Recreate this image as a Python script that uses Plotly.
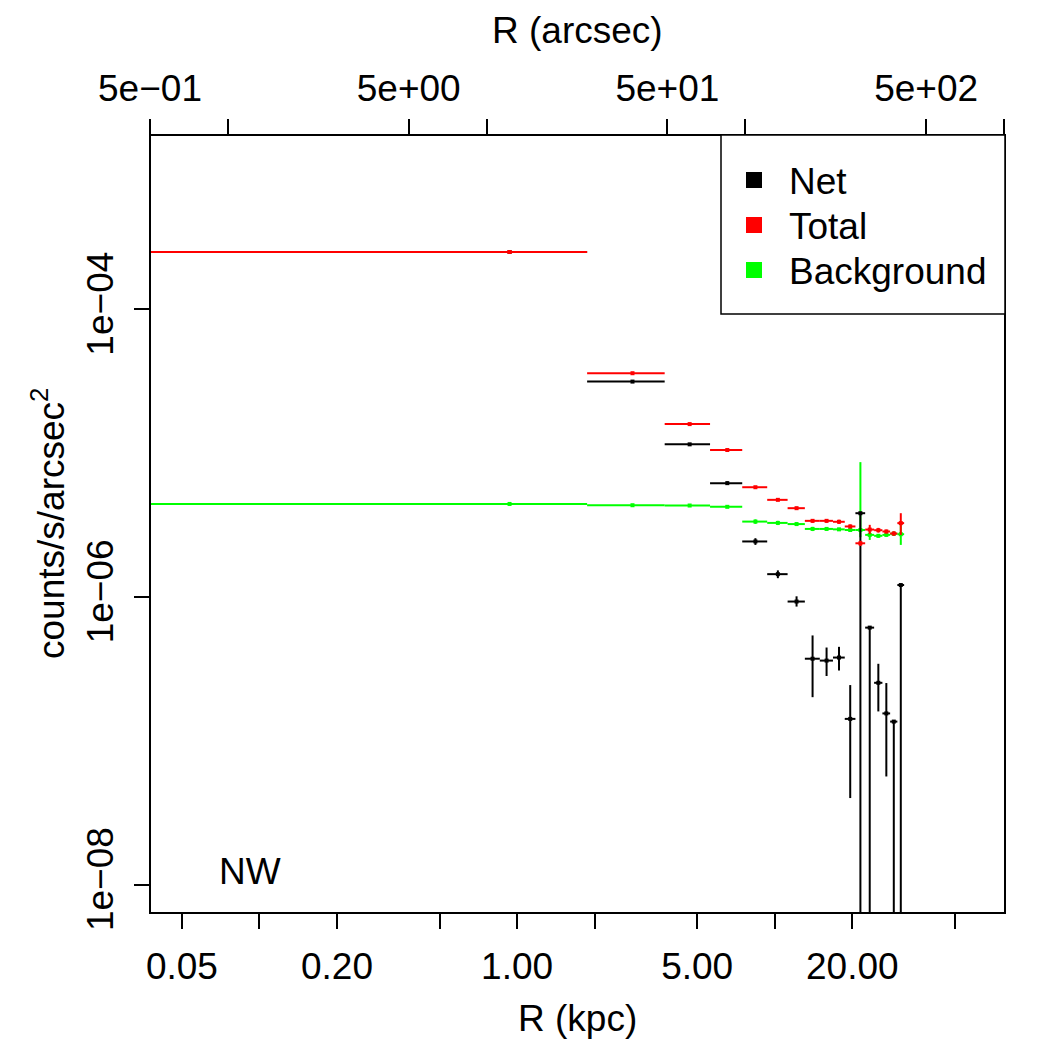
import plotly.graph_objects as go

# ---------------- data ----------------
r_kpc = [0.935, 2.805, 4.675, 6.545, 8.415, 10.285, 12.155, 14.025, 15.895,
         17.765, 19.635, 21.505, 23.375, 25.245, 27.115, 28.985, 30.855]
r_lo = [0.0, 1.87, 3.74, 5.61, 7.48, 9.35, 11.22, 13.09, 14.96,
        16.83, 18.70, 20.57, 22.44, 24.31, 26.18, 28.05, 29.92]
r_hi = [1.87, 3.74, 5.61, 7.48, 9.35, 11.22, 13.09, 14.96, 16.83,
        18.70, 20.57, 22.44, 24.31, 26.18, 28.05, 29.92, 31.79]

net_y = [2.50e-4, 3.14e-5, 1.15e-5, 6.18e-6, 2.43e-6, 1.44e-6, 9.29e-7, 3.72e-7, 3.61e-7,
         3.79e-7, 1.42e-7, 3.82e-6, 6.12e-7, 2.53e-7, 1.55e-7, 1.36e-7, 1.21e-6]
net_lo = [2.48e-4, 3.11e-5, 1.13e-5, 6.00e-6, 2.30e-6, 1.35e-6, 8.57e-7, 2.01e-7, 2.82e-7,
          3.08e-7, 4.00e-8, 0.0, 0.0, 1.60e-7, 5.65e-8, 0.0, 0.0]
net_hi = [2.52e-4, 3.17e-5, 1.17e-5, 6.35e-6, 2.56e-6, 1.53e-6, 1.01e-6, 5.40e-7, 4.45e-7,
          4.50e-7, 2.44e-7, 3.82e-6, 6.12e-7, 3.43e-7, 2.52e-7, 1.36e-7, 1.21e-6]

tot_y = [2.50e-4, 3.59e-5, 1.59e-5, 1.05e-5, 5.79e-6, 4.73e-6, 4.14e-6, 3.38e-6, 3.38e-6,
         3.33e-6, 3.09e-6, 2.36e-6, 2.94e-6, 2.91e-6, 2.85e-6, 2.76e-6, 3.26e-6]
tot_lo = [2.49e-4, 3.56e-5, 1.57e-5, 1.04e-5, 5.70e-6, 4.64e-6, 4.05e-6, 3.28e-6, 3.28e-6,
          3.22e-6, 3.00e-6, 2.26e-6, 2.74e-6, 2.80e-6, 2.76e-6, 2.66e-6, 2.70e-6]
tot_hi = [2.51e-4, 3.62e-5, 1.61e-5, 1.06e-5, 5.88e-6, 4.82e-6, 4.23e-6, 3.48e-6, 3.48e-6,
          3.44e-6, 3.19e-6, 2.46e-6, 3.17e-6, 3.02e-6, 2.94e-6, 2.86e-6, 3.82e-6]

bkg_y = [4.43e-6, 4.34e-6, 4.32e-6, 4.23e-6, 3.34e-6, 3.27e-6, 3.21e-6, 2.97e-6, 2.97e-6,
         2.95e-6, 2.92e-6, 2.92e-6, 2.70e-6, 2.66e-6, 2.70e-6, 2.75e-6, 2.73e-6]
bkg_lo = [4.32e-6, 4.26e-6, 4.24e-6, 4.16e-6, 3.22e-6, 3.16e-6, 3.12e-6, 2.87e-6, 2.89e-6,
          2.88e-6, 2.85e-6, 2.60e-6, 2.49e-6, 2.58e-6, 2.62e-6, 2.66e-6, 2.30e-6]
bkg_hi = [4.54e-6, 4.42e-6, 4.40e-6, 4.30e-6, 3.46e-6, 3.38e-6, 3.30e-6, 3.07e-6, 3.05e-6,
          3.02e-6, 2.99e-6, 8.65e-6, 2.85e-6, 2.74e-6, 2.78e-6, 2.84e-6, 3.27e-6]

x_tickvals = [0.05, 0.2, 1, 5, 20]
x_ticktext = ["0.05", "0.20", "1.00", "5.00", "20.00"]
x_minorvals = [0.1, 0.5, 2, 10, 50]
top_tickvals = [0.5, 5, 50, 500]
top_ticktext = ["5e\u221201", "5e+00", "5e+01", "5e+02"]
top_minorvals = [1, 10, 100, 1000]
y_tickvals = [1e-4, 1e-6, 1e-8]
y_ticktext = ["1e\u221204", "1e\u221206", "1e\u221208"]

series = [("Net", "#000000"), ("Total", "#FF0000"), ("Background", "#00FF00")]

# ---------------- layout geometry (pixels) ----------------
W = H = 1050
L, R, T, B = 150, 1005, 135, 913
PW, PH = R - L, B - T


def px(x):
    return (x - L) / PW


def py(y):
    return (B - y) / PH


FONT = "Liberation Sans, Arial, Helvetica, sans-serif"
FS = 37
FLOOR = 1e-12  # drawing floor for non-positive limits on log axes
XFLOOR = 1e-3


def hseg(lo, hi, y):
    xs, ys = [], []
    for a, b, v in zip(lo, hi, y):
        xs += [max(a, XFLOOR), b, None]
        ys += [v, v, None]
    return xs, ys


def vseg(xc, lo, hi):
    xs, ys = [], []
    for x, a, b in zip(xc, lo, hi):
        xs += [x, x, None]
        ys += [max(a, FLOOR), b, None]
    return xs, ys


fig = go.Figure()

data = {
    "Net": (net_y, net_lo, net_hi),
    "Total": (tot_y, tot_lo, tot_hi),
    "Background": (bkg_y, bkg_lo, bkg_hi),
}
order = ["Background", "Net", "Total"]
colors = dict(series)
for name in order:
    yv, ylo, yhi = data[name]
    c = colors[name]
    hx, hy = hseg(r_lo, r_hi, yv)
    vx, vy = vseg(r_kpc, ylo, yhi)
    fig.add_trace(go.Scatter(x=hx, y=hy, mode="lines", line=dict(color=c, width=2),
                             showlegend=False, hoverinfo="skip"))
    fig.add_trace(go.Scatter(x=vx, y=vy, mode="lines", line=dict(color=c, width=2),
                             showlegend=False, hoverinfo="skip"))
    fig.add_trace(go.Scatter(x=r_kpc, y=yv, mode="markers",
                             marker=dict(color=c, size=4, symbol="square"),
                             showlegend=False, name=name))

# invisible trace to activate the top (arcsec) axis
fig.add_trace(go.Scatter(x=[10], y=[1e-5], xaxis="x2", mode="markers",
                         marker=dict(opacity=0), showlegend=False, hoverinfo="skip"))

axis_common = dict(type="log", showgrid=False, zeroline=False, showline=False,
                   ticks="outside", ticklen=15, tickwidth=1.5, tickcolor="black",
                   tickfont=dict(family=FONT, size=FS, color="black"))
minor_common = dict(ticks="outside", ticklen=15, tickwidth=1.5, tickcolor="black",
                    showgrid=False, tickmode="array")

fig.update_layout(
    width=W, height=H,
    margin=dict(l=L, r=W - R, t=T, b=H - B, pad=0),
    paper_bgcolor="white", plot_bgcolor="white",
    showlegend=False,
    xaxis=dict(range=[-1.4248, 1.8938], tickmode="array", tickvals=x_tickvals,
               ticktext=x_ticktext, ticklabelstandoff=6,
               minor=dict(tickvals=x_minorvals, **minor_common), **axis_common),
    xaxis2=dict(range=[-0.3010, 3.0040], overlaying="x", side="top", anchor="y",
                tickmode="array", tickvals=top_tickvals, ticktext=top_ticktext,
                ticklabelstandoff=3,
                minor=dict(tickvals=top_minorvals, **minor_common), **axis_common),
    yaxis=dict(range=[-8.197, -2.789], tickmode="array", tickvals=y_tickvals,
               ticktext=y_ticktext, tickangle=-90, ticklabelstandoff=6, **axis_common),
)

shapes = [dict(type="rect", xref="paper", yref="paper", x0=0, x1=1, y0=0, y1=1,
               line=dict(color="black", width=2), fillcolor="rgba(0,0,0,0)", layer="above")]
# legend box
shapes.append(dict(type="rect", xref="paper", yref="paper", x0=px(721), x1=1,
                   y0=py(314), y1=1, line=dict(color="black", width=1.5),
                   fillcolor="white", layer="above"))
annotations = []
leg_y = [180, 225, 270]
for (name, c), yy in zip(series, leg_y):
    shapes.append(dict(type="rect", xref="paper", yref="paper", x0=px(746), x1=px(762),
                       y0=py(yy + 8), y1=py(yy - 8), line=dict(width=0), fillcolor=c,
                       layer="above"))
    annotations.append(dict(text=name, xref="paper", yref="paper", x=px(787), y=py(yy + 1),
                            xanchor="left", yanchor="middle", showarrow=False,
                            font=dict(family=FONT, size=FS, color="black")))

annotations += [
    dict(text="R (kpc)", xref="paper", yref="paper", x=px(577.5), y=py(1018),
         xanchor="center", yanchor="middle", showarrow=False,
         font=dict(family=FONT, size=FS, color="black")),
    dict(text="R (arcsec)", xref="paper", yref="paper", x=px(577.5), y=py(30),
         xanchor="center", yanchor="middle", showarrow=False,
         font=dict(family=FONT, size=FS, color="black")),
    dict(text="counts/s/arcsec<sup>2</sup>", xref="paper", yref="paper", x=px(48), y=py(524),
         xanchor="center", yanchor="middle", showarrow=False, textangle=-90,
         font=dict(family=FONT, size=FS, color="black")),
    dict(text="NW", xref="paper", yref="paper", x=px(217), y=py(871),
         xanchor="left", yanchor="middle", showarrow=False,
         font=dict(family=FONT, size=FS, color="black")),
]
fig.update_layout(shapes=shapes, annotations=annotations)

fig.write_html("out.html")
